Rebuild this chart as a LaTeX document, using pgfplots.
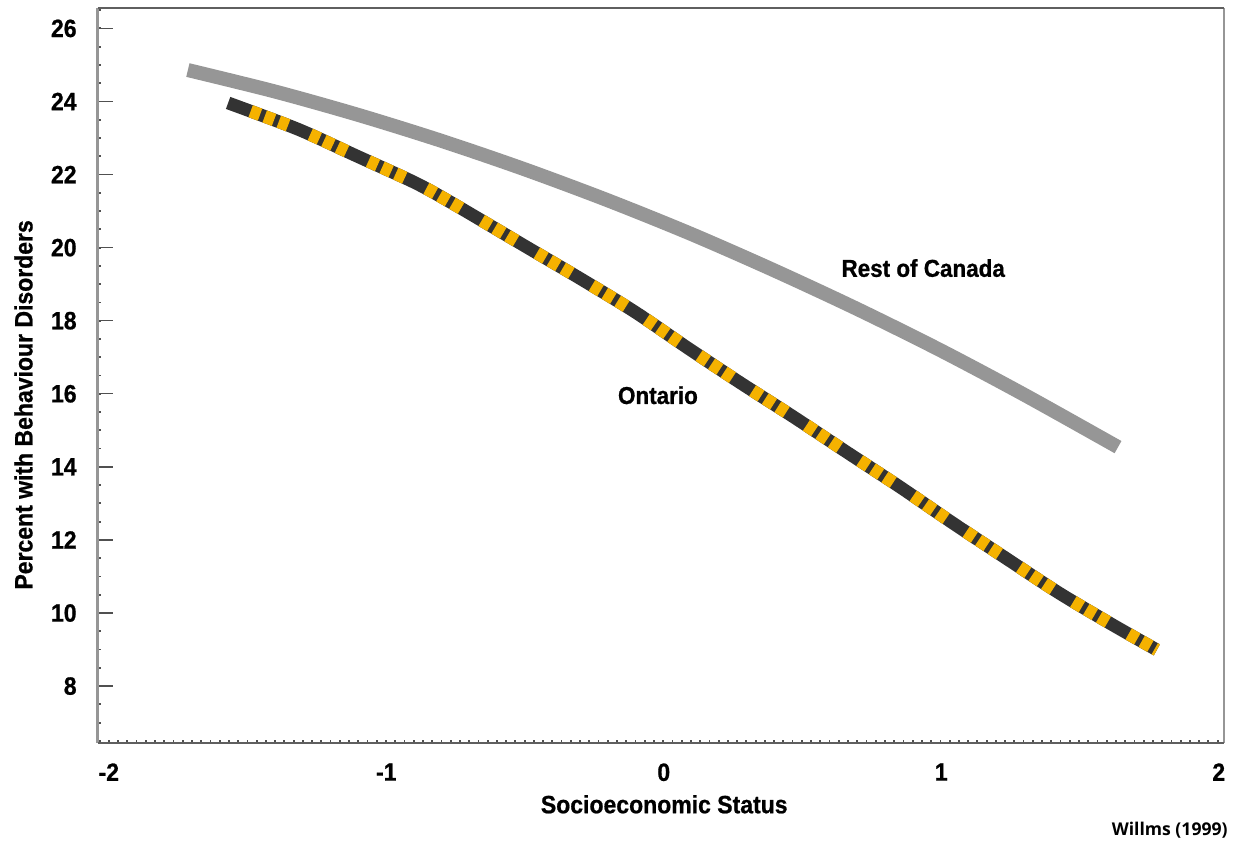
\documentclass[border=0pt]{standalone}
\usepackage{pgfplots}
\pgfplotsset{compat=1.18}
\usepackage{pgfplotstable}
\usepackage{fontspec}
\setmainfont{Liberation Sans}[FakeStretch=0.92, BoldFeatures={FakeBold=0.8}]
\newfontfamily\creditfont{Open Sans}
\definecolor{rocgray}{RGB}{150,150,150}
\definecolor{ontdark}{RGB}{51,51,51}
\definecolor{ontyellow}{RGB}{245,178,0}
\definecolor{sidegray}{RGB}{150,150,150}
\definecolor{framedark}{RGB}{95,95,95}
\definecolor{tickdark}{RGB}{80,80,80}

\pgfplotstableread{
x y
-1.715 24.86
-1.400 24.27
-1.100 23.63
-0.800 22.92
-0.500 22.14
-0.200 21.29
0.100 20.37
0.400 19.37
0.700 18.31
1.000 17.18
1.300 15.97
1.637 14.54
}\rocdata

\pgfplotstableread{
x y
-1.570 23.96
-1.318 23.24
-1.113 22.53
-0.900 21.79
-0.770 21.25
-0.493 20.01
-0.298 19.14
-0.104 18.24
0.087 17.25
0.278 16.29
0.469 15.36
0.664 14.38
0.851 13.45
1.042 12.46
1.233 11.50
1.424 10.55
1.619 9.67
1.777 8.99
}\ontdata

\begin{document}
\begin{tikzpicture}
\pgfplotsset{chartaxis/.style={scale only axis, width=563.15pt, height=367.2pt,
  xmin=-2.04, xmax=2.019, ymin=6.45, ymax=26.55}}
% overlay axis: right-side minor dots
\begin{axis}[chartaxis,
  axis x line=none, axis y line*=right,
  axis line style={draw=none},
  ytick=\empty, minor ytick={6.5,7,...,26.5},
  minor tick length=1.6pt, tick align=inside,
  minor tick style={tickdark, line width=0.9pt}]
\end{axis}
\begin{axis}[chartaxis, clip=false,
  axis line style={draw=none},
  xtick={-2,-1,0,1,2}, xticklabels={-2,-1,0,1,2},
  ytick={8,10,...,26},
  minor xtick={-2.0333,-2,...,2.0},
  minor ytick={6.5,7,...,26.5},
  xtick pos=bottom, ytick pos=left,
  tick align=inside,
  major tick length=7.5pt, minor tick length=1.6pt,
  major x tick style={draw=none},
  major tick style={tickdark, line width=0.7pt},
  minor tick style={tickdark, line width=0.9pt},
  /pgf/number format/assume math mode=true,
  tick label style={font=\bfseries\fontsize{12.5}{14}\selectfont, inner sep=0pt},
  yticklabel style={xshift=-10.35pt},
  xticklabel style={yshift=-10.15pt},
  xlabel={Socioeconomic Status},
  xlabel style={at={(axis description cs:0.503,-0.0708)}, anchor=north, inner sep=0pt,
    font=\bfseries\fontsize{12.5}{14}\selectfont},
  ylabel={Percent with Behaviour Disorders},
  ylabel style={at={(axis description cs:-0.0574,0.46)}, anchor=south, inner sep=0pt,
    font=\bfseries\fontsize{12.5}{14}\selectfont},
]
\draw[sidegray, line width=1.2pt] (rel axis cs:0,0) -- (rel axis cs:0,1);
\draw[sidegray, line width=1.2pt] (rel axis cs:1,0) -- (rel axis cs:1,1);
\draw[framedark, line width=1.1pt] (rel axis cs:0,1) -- (rel axis cs:1,1);
\draw[framedark, line width=1.1pt] (rel axis cs:0,0) -- (rel axis cs:1,0);

\addplot[rocgray, line width=7pt, smooth] table[x=x,y=y] {\rocdata};
\addplot[ontdark, line width=6.4pt, smooth] table[x=x,y=y] {\ontdata};
\addplot[ontyellow, line width=6.4pt, smooth,
  dash pattern=on 5pt off 2.5pt on 5pt off 2.5pt on 5pt off 12pt, dash phase=20pt]
  table[x=x,y=y] {\ontdata};

\node[font=\bfseries\fontsize{12.2}{14}\selectfont, inner sep=0pt] at (axis cs:0.935,19.44) {Rest of Canada};
\node[font=\bfseries\fontsize{12.2}{14}\selectfont, inner sep=0pt] at (axis cs:-0.021,15.96) {Ontario};
\end{axis}
\node[anchor=base east, inner sep=0pt, font=\creditfont\bfseries\fontsize{8.8}{10}\selectfont]
  at ([xshift=2pt,yshift=-46.15pt]current axis.south east) {Willms (1999)};
\path ([xshift=-48.85pt,yshift=-49.65pt]current axis.south west) rectangle ([xshift=7.5pt,yshift=4.15pt]current axis.north east);
\end{tikzpicture}
\end{document}
